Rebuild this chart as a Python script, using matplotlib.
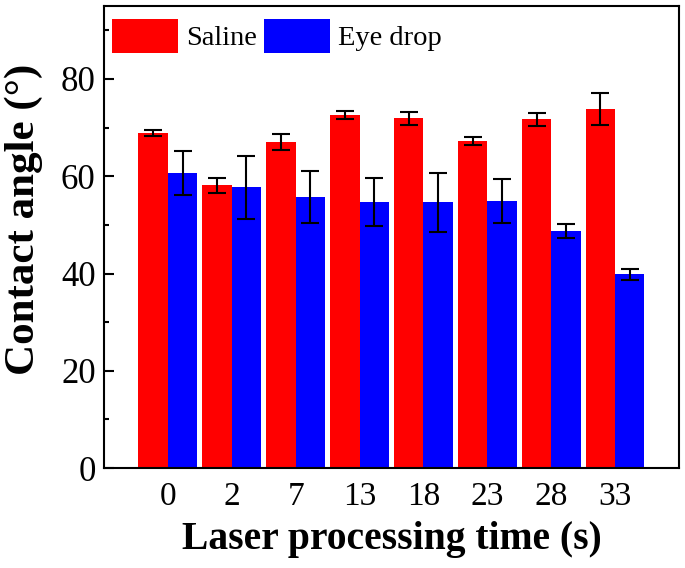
import matplotlib
matplotlib.use("Agg")
import matplotlib.pyplot as plt
import numpy as np
from matplotlib.ticker import MultipleLocator

categories = ["0", "2", "7", "13", "18", "23", "28", "33"]
saline = [68.9, 58.1, 67.0, 72.6, 71.9, 67.3, 71.7, 73.8]
saline_err = [0.6, 1.6, 1.6, 0.9, 1.3, 0.8, 1.4, 3.3]
eye_drop = [60.6, 57.7, 55.7, 54.7, 54.6, 54.9, 48.8, 39.8]
eye_drop_err = [4.5, 6.5, 5.4, 4.9, 6.1, 4.6, 1.4, 1.1]

plt.rcParams['font.family'] = ['Liberation Serif', 'DejaVu Serif']
plt.rcParams['mathtext.fontset'] = 'stix'

fig = plt.figure(figsize=(6.85, 5.68), dpi=100)
ax = fig.add_axes([0.1518, 0.176, 0.8394, 0.8134])

x = np.arange(len(categories))
w = 0.46
err_kw = dict(ecolor='black', elinewidth=1.5, capsize=6.5, capthick=1.5)
ax.bar(x - w/2, saline, w, color='#FF0000', yerr=saline_err, error_kw=err_kw, label='Saline', zorder=2)
ax.bar(x + w/2, eye_drop, w, color='#0000FF', yerr=eye_drop_err, error_kw=err_kw, label='Eye drop', zorder=2)

ax.set_xlim(-1, 8)
ax.set_ylim(0, 95)
ax.set_xticks(x)
ax.set_xticklabels(categories)
ax.yaxis.set_major_locator(MultipleLocator(20))
ax.yaxis.set_minor_locator(MultipleLocator(10))
ax.tick_params(axis='y', which='major', direction='in', length=7, width=1.5, labelsize=25, pad=6)
ax.tick_params(axis='y', which='minor', direction='in', length=3.5, width=1.5)
ax.tick_params(axis='x', which='both', length=0, labelsize=24, pad=10)
for s in ax.spines.values():
    s.set_linewidth(1.5)

ax.set_xlabel('Laser processing time (s)', fontsize=28.5, fontweight='bold', labelpad=6)
ax.set_ylabel('Contact angle (°)', fontsize=31, fontweight='bold')
ax.yaxis.set_label_coords(-0.106, 0.539)

ax.legend(loc='upper left', bbox_to_anchor=(0.014, 0.972), ncol=2, frameon=False,
          fontsize=20.5, handlelength=2.3, handleheight=1.45, handletextpad=0.3,
          columnspacing=0.25, borderpad=0, borderaxespad=0)

fig.savefig('out.png', dpi=100)
